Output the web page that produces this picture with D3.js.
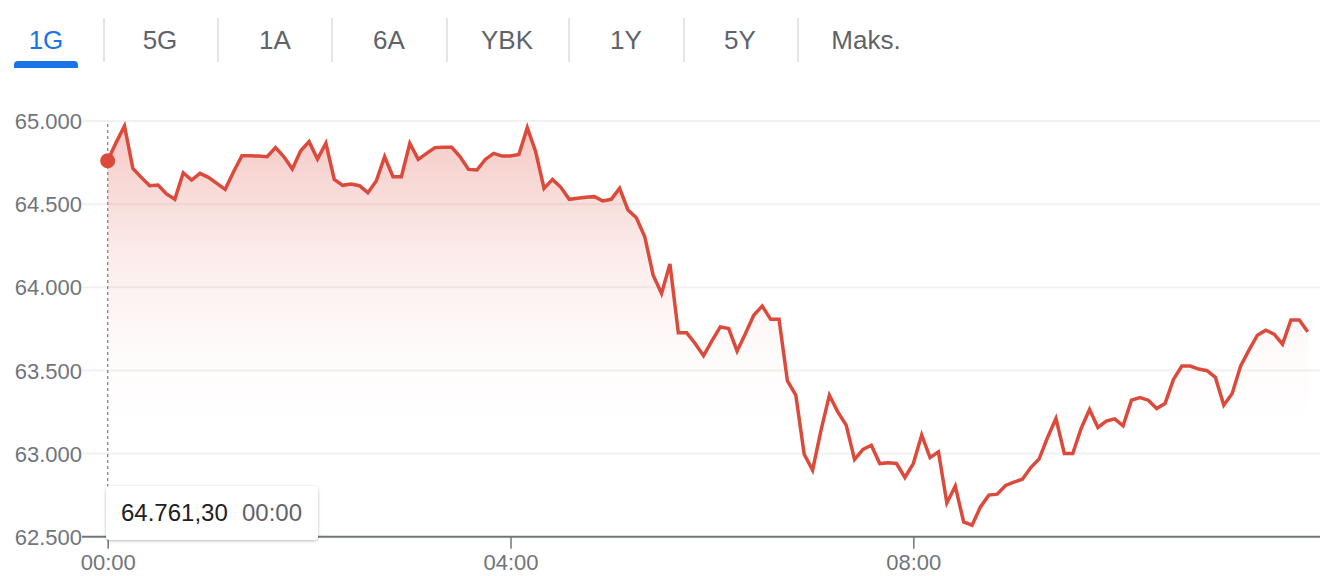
<!DOCTYPE html>
<html>
<head>
<meta charset="utf-8">
<script src="https://cdn.jsdelivr.net/npm/d3@7"></script>
<style>
  html, body { margin: 0; padding: 0; background: #fff; }
  svg { display: block; font-family: "Liberation Sans", Arial, sans-serif; }
</style>
</head>
<body>
<svg id="chart" width="1326" height="576"></svg>
<script>
// ---- data ----
const tabs = ["1G", "5G", "1A", "6A", "YBK", "1Y", "5Y", "Maks."];
const selectedTab = "1G";
const yTicks = [62500, 63000, 63500, 64000, 64500, 65000];
const xTickLabels = ["00:00", "04:00", "08:00"];
const stepMinutes = 5;
const values = [
  64761.3, 64870, 64970, 64715, 64661, 64611, 64615, 64561, 64529, 64689,
  64645, 64685, 64661, 64625, 64589, 64695, 64791, 64791, 64789, 64785,
  64840, 64785, 64711, 64821, 64876, 64771, 64866, 64649, 64613, 64621,
  64611, 64569, 64639, 64785, 64665, 64665, 64866, 64769, 64805, 64840,
  64842, 64842, 64785, 64709, 64705, 64769, 64805, 64789, 64789, 64799,
  64960, 64815, 64595, 64649, 64601, 64529, 64535, 64541, 64545, 64519,
  64529, 64595, 64465, 64418, 64304, 64073, 63963, 64140, 63726, 63726,
  63662, 63588, 63678, 63762, 63752, 63616, 63722, 63833, 63887, 63807,
  63807, 63437, 63351, 62996, 62900, 63140, 63351, 63251, 63171, 62964,
  63025, 63050, 62940, 62944, 62940, 62856, 62940, 63111, 62976, 63010,
  62703, 62804, 62589, 62569, 62679, 62750, 62756, 62808, 62828, 62846,
  62916, 62968, 63097, 63211, 63000, 63000, 63151, 63265, 63157, 63195,
  63209, 63167, 63321, 63337, 63321, 63271, 63301, 63446, 63526, 63526,
  63508, 63498, 63458, 63291, 63361, 63526, 63622, 63712, 63742, 63718,
  63658, 63803, 63803, 63732
];
const tooltipValue = "64.761,30";
const tooltipTime = "00:00";

// ---- helpers ----
const day = new Date(2024, 0, 1, 0, 0);
const parseHM = s => { const [h, m] = s.split(":").map(Number); return new Date(2024, 0, 1, h, m); };
const times = values.map((v, i) => d3.timeMinute.offset(day, i * stepMinutes));
const data = values.map((v, i) => ({ t: times[i], v }));

const svg = d3.select("#chart");
const red = "#db4a3b";
const grey = "#70757a";

// ---- tabs ----
const tabCenters = [46, 160, 275, 389, 507, 626, 740, 866];
const sepX = [104, 218, 332, 447, 569, 684, 798];
const tabG = svg.append("g");
tabG.selectAll("line.sep").data(sepX).join("line")
  .attr("x1", d => d).attr("x2", d => d).attr("y1", 18).attr("y2", 62)
  .attr("stroke", "#dadce0").attr("stroke-width", 1.5);
tabG.selectAll("text").data(tabs).join("text")
  .attr("x", (d, i) => tabCenters[i]).attr("y", 49)
  .attr("text-anchor", "middle")
  .attr("font-size", 26)
  .attr("fill", d => d === selectedTab ? "#1a73e8" : "#5f6368")
  .text(d => d);
const selIdx = tabs.indexOf(selectedTab);
tabG.append("path")
  .attr("d", () => {
    const cx = tabCenters[selIdx], x0 = cx - 32, x1 = cx + 32, y0 = 61, y1 = 68, r = 4;
    return `M${x0},${y1} L${x0},${y0 + r} Q${x0},${y0} ${x0 + r},${y0} L${x1 - r},${y0} Q${x1},${y0} ${x1},${y0 + r} L${x1},${y1} Z`;
  })
  .attr("fill", "#1a73e8");

// ---- scales ----
const x = d3.scaleTime()
  .domain([parseHM("00:00"), parseHM("12:00")])
  .range([107.7, 107.7 + 12 * 100.7]);
const y = d3.scaleLinear().domain([62500, 65000]).range([536.7, 121]);

// ---- gridlines + y labels ----
const grid = svg.append("g");
grid.selectAll("line").data(yTicks.filter(t => t !== 62500)).join("line")
  .attr("x1", 82).attr("x2", 1320)
  .attr("y1", d => y(d)).attr("y2", d => y(d))
  .attr("stroke", "#f1f1f1").attr("stroke-width", 2);

const yAxis = svg.append("g").attr("transform", "translate(82,0)")
  .call(d3.axisLeft(y).tickValues(yTicks).tickSize(0).tickPadding(0)
    .tickFormat(d => d3.format(".3f")(d / 1000)));
yAxis.select(".domain").remove();
yAxis.selectAll("text")
  .attr("font-size", 22).attr("fill", grey).attr("font-family", "Liberation Sans, Arial, sans-serif")
  .attr("dy", "0.35em");

// ---- area gradient ----
const defs = svg.append("defs");
const grad = defs.append("linearGradient").attr("id", "areaGrad")
  .attr("gradientUnits", "userSpaceOnUse")
  .attr("x1", 0).attr("x2", 0).attr("y1", y(65000)).attr("y2", y(62500));
grad.append("stop").attr("offset", "0%").attr("stop-color", red).attr("stop-opacity", 0.30);
grad.append("stop").attr("offset", "33%").attr("stop-color", red).attr("stop-opacity", 0.10);
grad.append("stop").attr("offset", "55%").attr("stop-color", red).attr("stop-opacity", 0.025);
grad.append("stop").attr("offset", "72%").attr("stop-color", red).attr("stop-opacity", 0);
grad.append("stop").attr("offset", "100%").attr("stop-color", red).attr("stop-opacity", 0);

svg.append("path").datum(data)
  .attr("fill", "url(#areaGrad)")
  .attr("d", d3.area().x(d => x(d.t)).y0(y(62500)).y1(d => y(d.v)));

// ---- dashed vertical line at first point ----
svg.append("line")
  .attr("x1", x(times[0])).attr("x2", x(times[0]))
  .attr("y1", 124).attr("y2", y(62500))
  .attr("stroke", "#80868b").attr("stroke-width", 1.3).attr("stroke-dasharray", "3,3");

// ---- line ----
svg.append("path").datum(data)
  .attr("fill", "none").attr("stroke", red).attr("stroke-width", 3.5)
  .attr("stroke-linejoin", "miter").attr("stroke-miterlimit", 4)
  .attr("d", d3.line().x(d => x(d.t)).y(d => y(d.v)));

// ---- x axis ----
const xAxis = svg.append("g").attr("transform", `translate(0,${y(62500)})`)
  .call(d3.axisBottom(x).tickValues(xTickLabels.map(parseHM)).tickSize(12).tickPadding(6)
    .tickFormat(d3.timeFormat("%H:%M")));
xAxis.select(".domain").remove();
xAxis.selectAll(".tick line").attr("stroke", grey).attr("stroke-width", 1.5);
xAxis.selectAll("text").attr("font-size", 22).attr("fill", grey)
  .attr("font-family", "Liberation Sans, Arial, sans-serif");
svg.append("line")
  .attr("x1", 82).attr("x2", 1320).attr("y1", y(62500)).attr("y2", y(62500))
  .attr("stroke", grey).attr("stroke-width", 2);

// ---- point ----
svg.append("circle")
  .attr("cx", x(times[0])).attr("cy", y(values[0])).attr("r", 7.5)
  .attr("fill", red);

// ---- tooltip ----
const filt = defs.append("filter").attr("id", "shadow").attr("x", "-20%").attr("y", "-30%").attr("width", "140%").attr("height", "170%");
filt.append("feDropShadow").attr("dx", 0).attr("dy", 1).attr("stdDeviation", 1.6)
  .attr("flood-color", "#000").attr("flood-opacity", 0.28);
const tip = svg.append("g").attr("transform", `translate(${x(times[0]) - 1.7},486)`);
tip.append("rect").attr("width", 212).attr("height", 54).attr("rx", 4)
  .attr("fill", "#fff").attr("filter", "url(#shadow)");
tip.append("text").attr("x", 15).attr("y", 35).attr("font-size", 24).attr("fill", "#202124")
  .text(tooltipValue);
tip.append("text").attr("x", 136).attr("y", 35).attr("font-size", 24).attr("fill", "#5f6368")
  .text(tooltipTime);
</script>
</body>
</html>
